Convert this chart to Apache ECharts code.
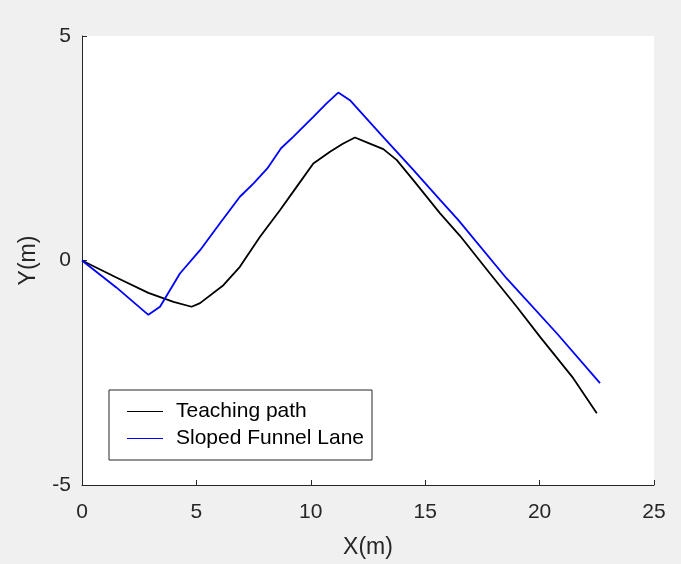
<!DOCTYPE html>
<html>
<head>
<meta charset="utf-8">
<script src="https://cdn.jsdelivr.net/npm/echarts@6/dist/echarts.min.js"></script>
<style>
html,body{margin:0;padding:0;background:#f0f0f0;}
#c{width:681px;height:564px;}
</style>
</head>
<body>
<div id="c"></div>
<script>
var seriesNames = ['Teaching path', 'Sloped Funnel Lane'];
var xTicks = [0, 5, 10, 15, 20, 25];
var yTicks = [-5, 0, 5];

var teachX = [0, 1.5, 2.9, 4.0, 4.79, 5.16, 6.18, 6.9, 7.78, 8.65, 9.38, 10.11, 10.84, 11.4, 11.93, 12.5, 13.17, 13.75, 14.48, 15.65, 16.52, 17.83, 19.0, 20.02, 21.47, 22.5];
var teachY = [0, -0.38, -0.72, -0.92, -1.03, -0.95, -0.55, -0.14, 0.53, 1.12, 1.64, 2.16, 2.42, 2.6, 2.74, 2.62, 2.48, 2.24, 1.79, 1.05, 0.55, -0.29, -1.03, -1.7, -2.62, -3.4];

var laneX = [0, 1.5, 2.9, 3.41, 4.28, 5.16, 6.03, 6.9, 7.5, 8.1, 8.7, 9.24, 10.11, 10.69, 11.2, 11.71, 13.02, 14.48, 15.65, 16.45, 18.56, 20.75, 22.64];
var laneY = [0, -0.6, -1.21, -1.03, -0.29, 0.23, 0.83, 1.42, 1.72, 2.05, 2.5, 2.76, 3.2, 3.5, 3.74, 3.57, 2.83, 2.02, 1.35, 0.9, -0.4, -1.62, -2.73];

function pairs(xs, ys) { return xs.map(function (x, i) { return [x, ys[i]]; }); }

var axisColor = '#262626';
var chart = echarts.init(document.getElementById('c'));
chart.setOption({
  backgroundColor: '#f0f0f0',
  animation: false,
  grid: { left: 82, right: 27, top: 36, bottom: 79, show: true, backgroundColor: '#ffffff', borderWidth: 0 },
  xAxis: {
    type: 'value', min: xTicks[0], max: xTicks[xTicks.length - 1], interval: 5,
    name: 'X(m)', nameLocation: 'middle', nameGap: 51,
    nameTextStyle: { fontFamily: 'Liberation Sans', fontSize: 23, color: axisColor },
    axisLine: { onZero: false, lineStyle: { color: axisColor, width: 1 } },
    axisTick: { inside: true, length: 5, lineStyle: { color: axisColor } },
    axisLabel: { fontFamily: 'Liberation Sans', fontSize: 21, color: axisColor, margin: 17 },
    splitLine: { show: false }
  },
  yAxis: {
    type: 'value', min: yTicks[0], max: yTicks[yTicks.length - 1], interval: 5,
    name: 'Y(m)', nameLocation: 'middle', nameGap: 42,
    nameTextStyle: { fontFamily: 'Liberation Sans', fontSize: 23, color: axisColor },
    axisLine: { show: true, onZero: false, lineStyle: { color: axisColor, width: 1 } },
    axisTick: { show: true, inside: true, length: 5, lineStyle: { color: axisColor } },
    axisLabel: { fontFamily: 'Liberation Sans', fontSize: 21, color: axisColor, margin: 11 },
    splitLine: { show: false }
  },
  legend: {
    orient: 'vertical', left: 109, top: 390,
    data: [{ name: seriesNames[0], icon: 'rect' }, { name: seriesNames[1], icon: 'rect' }],
    itemWidth: 36, itemHeight: 1.2, itemGap: 0,
    padding: [8, 8, 8, 18],
    backgroundColor: '#ffffff', borderColor: axisColor, borderWidth: 1,
    textStyle: { fontFamily: 'Liberation Sans', fontSize: 21, color: '#000000', lineHeight: 27, padding: [0, 0, 0, 8] }
  },
  series: [
    { name: seriesNames[0], type: 'line', data: pairs(teachX, teachY), showSymbol: false, symbol: 'none',
      lineStyle: { color: '#000000', width: 1.8 }, itemStyle: { color: '#000000' } },
    { name: seriesNames[1], type: 'line', data: pairs(laneX, laneY), showSymbol: false, symbol: 'none',
      lineStyle: { color: '#0000ff', width: 1.8 }, itemStyle: { color: '#0000ff' } }
  ]
});
</script>
</body>
</html>
